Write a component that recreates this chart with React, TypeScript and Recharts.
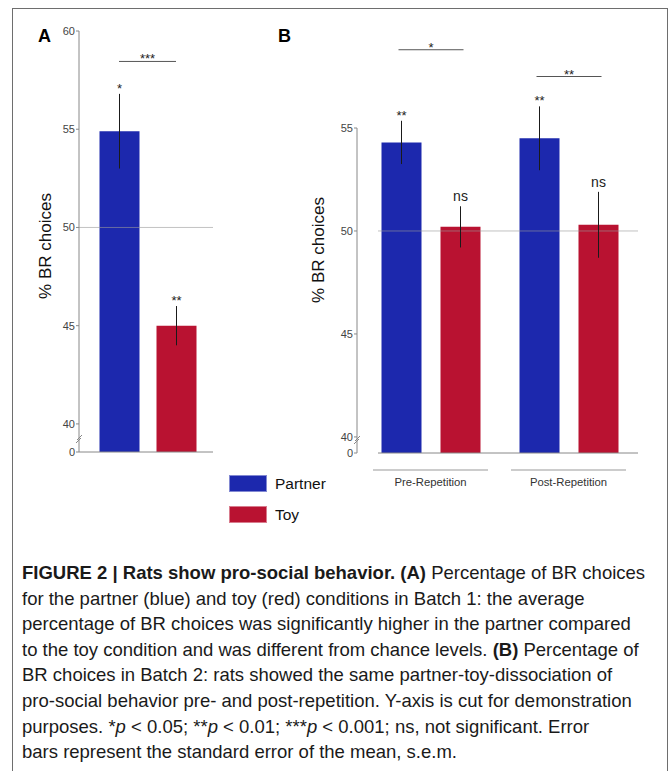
import React from "react";
import {
  BarChart,
  Bar,
  Cell,
  XAxis,
  YAxis,
  ReferenceLine,
  LabelList,
  Legend,
} from "recharts";

// Batch 1 (panel A)
const conditionsA = ["Partner", "Toy"];
const meansA = [54.9, 45.0];
const semA = [1.9, 1.0];
const sigA = ["*", "**"];
const pairSigA = "***";
const pairLevelA = 58.45;

// Batch 2 (panel B)
const phasesB = ["Pre-Repetition", "Post-Repetition"];
const partnerB = [54.3, 54.5];
const partnerSemB = [1.05, 1.55];
const partnerSigB = ["**", "**"];
const toyB = [50.2, 50.3];
const toySemB = [1.0, 1.6];
const toySigB = ["ns", "ns"];
const pairSigB = ["*", "**"];
const pairLevelB = [58.8, 57.5];

const chanceLevel = 50;
const ticksA = [40, 45, 50, 55, 60];
const ticksB = [40, 45, 50, 55];
// bottom of the cut axes, labelled "0"
const floorA = 38.57;
const floorB = 39.22;

const BLUE = "#1c28ad";
const RED = "#b91231";
const FONT = '"Liberation Sans", Arial, sans-serif';
const BAR_SIZE = 40;
const BAR_GAP = 19;

const dataA = conditionsA.map((c, i) => ({ condition: c, value: meansA[i] }));
const dataB = phasesB.map((p, i) => ({ phase: p, partner: partnerB[i], toy: toyB[i] }));

// error bar + significance mark (+ optional bracket back to the partner bar)
function annot(
  means: number[],
  sems: number[],
  sigs: string[],
  floor: number,
  pair?: { sigs: string[]; levels: number[] }
) {
  return (props: any) => {
    const vb = props.viewBox ?? props;
    const { x, y, width, height } = vb;
    let i = props.index;
    if (i == null) i = means.indexOf(props.value);
    const v = means[i];
    const k = height / (v - floor);
    const cx = x + width / 2;
    const top = y - sems[i] * k;
    const bot = y + sems[i] * k;
    const ns = sigs[i] === "ns";
    let bracket = null;
    if (pair) {
      const ly = y - (pair.levels[i] - v) * k;
      const px = cx - (BAR_SIZE + BAR_GAP);
      bracket = (
        <g>
          <line x1={px - 3} x2={cx + 3} y1={ly} y2={ly} stroke="#555" strokeWidth={1} />
          <text x={(px + cx) / 2} y={ly + 2} textAnchor="middle" fontSize={13} fill="#222" fontFamily={FONT}>
            {pair.sigs[i]}
          </text>
        </g>
      );
    }
    return (
      <g>
        <line x1={cx} x2={cx} y1={top} y2={bot} stroke="#1a1a1a" strokeWidth={1} />
        <text
          x={cx}
          y={ns ? top - 5 : top - 1}
          textAnchor="middle"
          fontSize={ns ? 14 : 13}
          fill="#222"
          fontFamily={FONT}
        >
          {sigs[i]}
        </text>
        {bracket}
      </g>
    );
  };
}

function yTick(props: any) {
  const { x, y, payload } = props;
  const cut = payload.value < 40;
  const ax = x + 4;
  return (
    <g>
      <text x={x} y={y} dy="0.35em" textAnchor="end" fontSize={11} fill="#444" fontFamily={FONT}>
        {cut ? "0" : payload.value}
      </text>
      {cut && (
        <g stroke="#888" strokeWidth={1}>
          <line x1={ax - 3} y1={y - 9} x2={ax + 2} y2={y - 14} />
          <line x1={ax - 2} y1={y - 12} x2={ax + 3} y2={y - 17} />
        </g>
      )}
    </g>
  );
}

function yLabel(dx: number, cy: number) {
  return (props: any) => {
    const vb = props.viewBox;
    const x = vb.x + dx;
    return (
      <text
        x={x}
        y={cy}
        transform={`rotate(-90 ${x} ${cy})`}
        textAnchor="middle"
        dominantBaseline="central"
        fontSize={17}
        fill="#111"
        fontFamily={FONT}
      >
        % BR choices
      </text>
    );
  };
}

function xTickB(props: any) {
  const { x, y, payload } = props;
  return (
    <g>
      <line x1={x - 57.5} x2={x + 57.5} y1={y + 17} y2={y + 17} stroke="#999" strokeWidth={1} />
      <text x={x} y={y + 33} textAnchor="middle" fontSize={11.3} fill="#333" fontFamily={FONT}>
        {payload.value}
      </text>
    </g>
  );
}

function legendContent(props: any) {
  return (
    <div style={{ fontFamily: FONT }}>
      {(props.payload || []).map((p: any) => (
        <div key={p.value} style={{ display: "flex", alignItems: "center", height: 31 }}>
          <span
            style={{
              display: "inline-block",
              width: 38,
              height: 17,
              background: p.color,
              border: "1px solid rgba(255,255,255,0.45)",
              boxSizing: "border-box",
            }}
          />
          <span style={{ marginLeft: 8, fontSize: 15.5, color: "#111" }}>{p.value}</span>
        </div>
      ))}
    </div>
  );
}

const axisStroke = { stroke: "#888" };

const letterStyle: React.CSSProperties = {
  position: "absolute",
  top: 27,
  fontFamily: FONT,
  fontWeight: "bold",
  fontSize: 18,
  lineHeight: "18px",
  color: "#000",
};

export default function App() {
  return (
    <div
      style={{
        position: "absolute",
        left: 0,
        top: 0,
        width: 671,
        height: 771,
        overflow: "hidden",
        background: "#fff",
      }}
    >
      <div
        style={{
          position: "absolute",
          left: 12,
          top: 8,
          width: 656,
          height: 800,
          border: "1.5px solid #6e6e6e",
          boxSizing: "border-box",
        }}
      />

      <div style={{ position: "absolute", left: 0, top: 0 }}>
        <BarChart
          width={230}
          height={470}
          data={dataA}
          margin={{ top: 31, right: 17, bottom: 8, left: 19 }}
          barSize={BAR_SIZE}
        >
          <XAxis
            dataKey="condition"
            height={10}
            tick={false}
            tickLine={false}
            axisLine={axisStroke}
            padding={{ left: 11.5, right: 8.5 }}
          />
          <YAxis
            type="number"
            width={60}
            domain={[floorA, 60]}
            ticks={[floorA, ...ticksA]}
            interval={0}
            tick={yTick}
            tickSize={3}
            tickMargin={1}
            axisLine={axisStroke}
            tickLine={axisStroke}
            label={yLabel(26, 246)}
          />
          <Bar dataKey="value" isAnimationActive={false}>
            {dataA.map((d, i) => (
              <Cell key={d.condition} fill={i === 0 ? BLUE : RED} />
            ))}
            <LabelList content={annot(meansA, semA, sigA, floorA)} />
          </Bar>
          <ReferenceLine y={chanceLevel} stroke="#999" strokeOpacity={0.6} />
          <ReferenceLine
            segment={[
              { x: conditionsA[0], y: pairLevelA },
              { x: conditionsA[1], y: pairLevelA },
            ]}
            stroke="#555"
            label={{ value: pairSigA, position: "top", offset: -2, fontSize: 13, fill: "#222", fontFamily: FONT }}
          />
        </BarChart>
      </div>

      <div style={{ position: "absolute", left: 220, top: 0 }}>
        <BarChart
          width={440}
          height={530}
          data={dataB}
          margin={{ top: 128, right: 22, bottom: 37, left: 77 }}
          barSize={BAR_SIZE}
          barGap={BAR_GAP}
        >
          <XAxis
            dataKey="phase"
            height={40}
            tickLine={false}
            tickSize={0}
            tickMargin={0}
            tick={xTickB}
            interval={0}
            axisLine={axisStroke}
            padding={{ left: -16.5, right: 0.5 }}
          />
          <YAxis yAxisId="gap" width={21} tick={false} tickLine={false} axisLine={false} domain={[0, 1]} />
          <YAxis
            yAxisId="main"
            type="number"
            width={60}
            domain={[floorB, 55]}
            ticks={[floorB, ...ticksB]}
            interval={0}
            tick={yTick}
            tickSize={3}
            tickMargin={1}
            axisLine={axisStroke}
            tickLine={axisStroke}
            label={yLabel(21, 250)}
          />
          <Bar yAxisId="main" dataKey="partner" name="Partner" fill={BLUE} isAnimationActive={false}>
            <LabelList content={annot(partnerB, partnerSemB, partnerSigB, floorB)} />
          </Bar>
          <Bar yAxisId="main" dataKey="toy" name="Toy" fill={RED} isAnimationActive={false}>
            <LabelList
              content={annot(toyB, toySemB, toySigB, floorB, { sigs: pairSigB, levels: pairLevelB })}
            />
          </Bar>
          <ReferenceLine yAxisId="main" y={chanceLevel} stroke="#999" strokeOpacity={0.6} />
          <Legend
            layout="vertical"
            align="center"
            verticalAlign="middle"
            content={legendContent}
            wrapperStyle={{ left: 9, top: 468, width: "auto" }}
          />
        </BarChart>
      </div>

      <div style={{ ...letterStyle, left: 38 }}>A</div>
      <div style={{ ...letterStyle, left: 278 }}>B</div>

      <div
        style={{
          position: "absolute",
          left: 22,
          top: 560,
          fontFamily: FONT,
          fontSize: 18.5,
          lineHeight: "25.6px",
          color: "#1a1a1a",
          whiteSpace: "nowrap",
        }}
      >
        <div>
          <b>FIGURE 2 | Rats show pro-social behavior. (A)</b> Percentage of BR choices
        </div>
        <div>for the partner (blue) and toy (red) conditions in Batch 1: the average</div>
        <div>percentage of BR choices was significantly higher in the partner compared</div>
        <div>
          to the toy condition and was different from chance levels. <b>(B)</b> Percentage of
        </div>
        <div>BR choices in Batch 2: rats showed the same partner-toy-dissociation of</div>
        <div>pro-social behavior pre- and post-repetition. Y-axis is cut for demonstration</div>
        <div>
          purposes. *<i>p</i> &lt; 0.05; **<i>p</i> &lt; 0.01; ***<i>p</i> &lt; 0.001; ns, not significant. Error
        </div>
        <div>bars represent the standard error of the mean, s.e.m.</div>
      </div>
    </div>
  );
}
